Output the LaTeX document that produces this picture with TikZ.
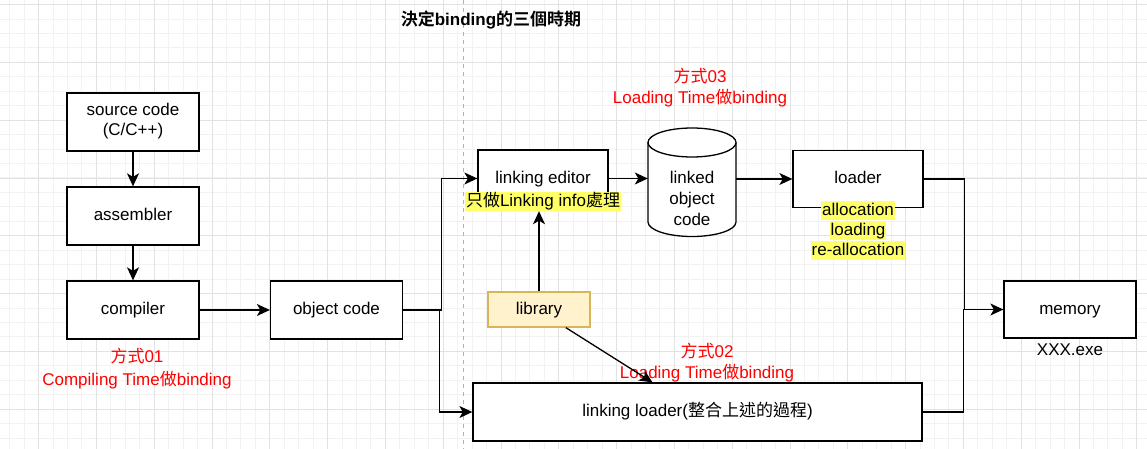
\documentclass[tikz,border=0pt]{standalone}
\usepackage{fontspec}
\setmainfont{Liberation Sans}
\newfontfamily\cjk{Noto Sans CJK TC}[BoldFont={Noto Sans CJK TC Bold}]
\newcommand{\zh}[1]{{\cjk #1}}
\usetikzlibrary{arrows.meta,calc}
\definecolor{gridminor}{RGB}{242,242,242}
\definecolor{gridmajor}{RGB}{226,226,226}
\definecolor{hl}{RGB}{255,255,102}
\definecolor{libfill}{RGB}{255,242,204}
\definecolor{libdraw}{RGB}{214,182,86}
\definecolor{note}{RGB}{255,0,0}
\tikzset{
  box/.style={draw, line width=1.3pt, fill=white, minimum width=132, minimum height=58, text height=12pt, text depth=3pt},
  arr/.style={-{Stealth[length=13pt,width=12pt,inset=3.5pt]}, line width=1.3pt},
  hlnote/.style={fill=hl, inner xsep=1pt, inner ysep=1pt, text height=13pt, text depth=4pt},
  rednote/.style={text=note}
}
\begin{document}
\begin{tikzpicture}[x=1pt,y=-1pt,every node/.style={font=\fontsize{17}{20}\selectfont}]
	\useasboundingbox (0,0) rectangle (1147,449);
	\fill[white] (0,0) rectangle (1147,449);
	% grid
	\foreach \k in {0,...,78}
		\draw[gridminor] ({9.4+14.45*\k},0) -- ({9.4+14.45*\k},449);
	\foreach \k in {0,...,31}
		\draw[gridminor] (0,{4.3+14.45*\k}) -- (1147,{4.3+14.45*\k});
	\foreach \k in {0,...,19}
		\draw[gridmajor] ({38.3+57.8*\k},0) -- ({38.3+57.8*\k},449);
	\foreach \k in {0,...,7}
		\draw[gridmajor] (0,{4.3+57.8*\k}) -- (1147,{4.3+57.8*\k});
	\draw[gray!60, dash pattern=on 4pt off 4pt] (463,0) -- (463,449);

	\node at (491,20) {\bfseries\zh{決定}binding\zh{的三個時期}};

	% boxes
	\node[box, text height=, text depth=] (src) at (133,122) {\begin{tabular}{c}source code\\(C/C++)\end{tabular}};
	\node[box] (asm) at (133,216) {assembler};
	\node[box] (comp) at (133,310) {compiler};
	\node[box] (obj) at (336.5,310) {object code};
	\node[box, minimum width=130, minimum height=57] (editor) at (543,178.5) {linking editor};
	\node[minimum width=88, minimum height=108] (linked) at (692,182) {};
	\draw[line width=1.3pt, fill=white] (648,142.5) -- (648,222) arc[start angle=180, end angle=0, x radius=44, y radius=14.5] -- (736,142.5);
	\draw[line width=1.3pt, fill=white] (692,142.5) ellipse[x radius=44, y radius=14.5];
	\node[align=center, inner sep=0pt] at (692,198) {linked\\[1pt]object\\[1pt]code};
	\node[box, minimum width=130, minimum height=57] (loader) at (858,179) {loader};
	\node[box, minimum width=132, minimum height=57] (memory) at (1070,309.5) {memory};
	\node[box, minimum width=449, minimum height=58] (lloader) at (697.5,412) {linking loader(\zh{整合上述的過程})};
	\node[draw=libdraw, fill=libfill, line width=1.3pt, minimum width=102, minimum height=35, text height=12pt, text depth=3pt] (lib) at (539,309.5) {library};

	% notes
	\node[hlnote] (editornote) at (543,201.5) {\zh{只做}Linking info\zh{處理}};
	\node[hlnote] (alloc) at (858,210.5) {allocation};
	\node[hlnote] (load) at (858,230.5) {loading};
	\node[hlnote] (realloc) at (858,250.5) {re-allocation};
	\node at (1070,350) {XXX.exe};
	\node[rednote] at (137,356) {\zh{方式}01};
	\node[rednote] at (137,380) {Compiling Time\zh{做}binding};
	\node[rednote] at (707,351) {\zh{方式}02};
	\node[rednote] at (707,373) {Loading Time\zh{做}binding};
	\node[rednote] at (700,76) {\zh{方式}03};
	\node[rednote] at (700,98) {Loading Time\zh{做}binding};

	% connectors
	\draw[arr] (src) -- (asm);
	\draw[arr] (asm) -- (comp);
	\draw[arr] (comp) -- (obj);
	\draw[arr] (obj.east) -- ++(38,0) |- (editor.west);
	\draw[arr] (obj.east) -- ++(36,0) |- (lloader.west);
	\draw[arr] (editor.east) -- (editor.east -| linked.west);
	\draw[arr] (linked.east |- loader.west) -- (loader.west);
	\draw[arr] (loader.east) -- ++(41,0) |- (memory.west);
	\draw[line width=1.3pt] (lloader.east) -- ++(41,0) |- (memory.west);
	\draw[arr] (lib.north) -- (lib.north |- editornote.south);
	\draw[arr] ($(lib.south west)!0.76!(lib.south east)$) -- ($(lloader.north west)!0.40!(lloader.north east)$);
\end{tikzpicture}
\end{document}
